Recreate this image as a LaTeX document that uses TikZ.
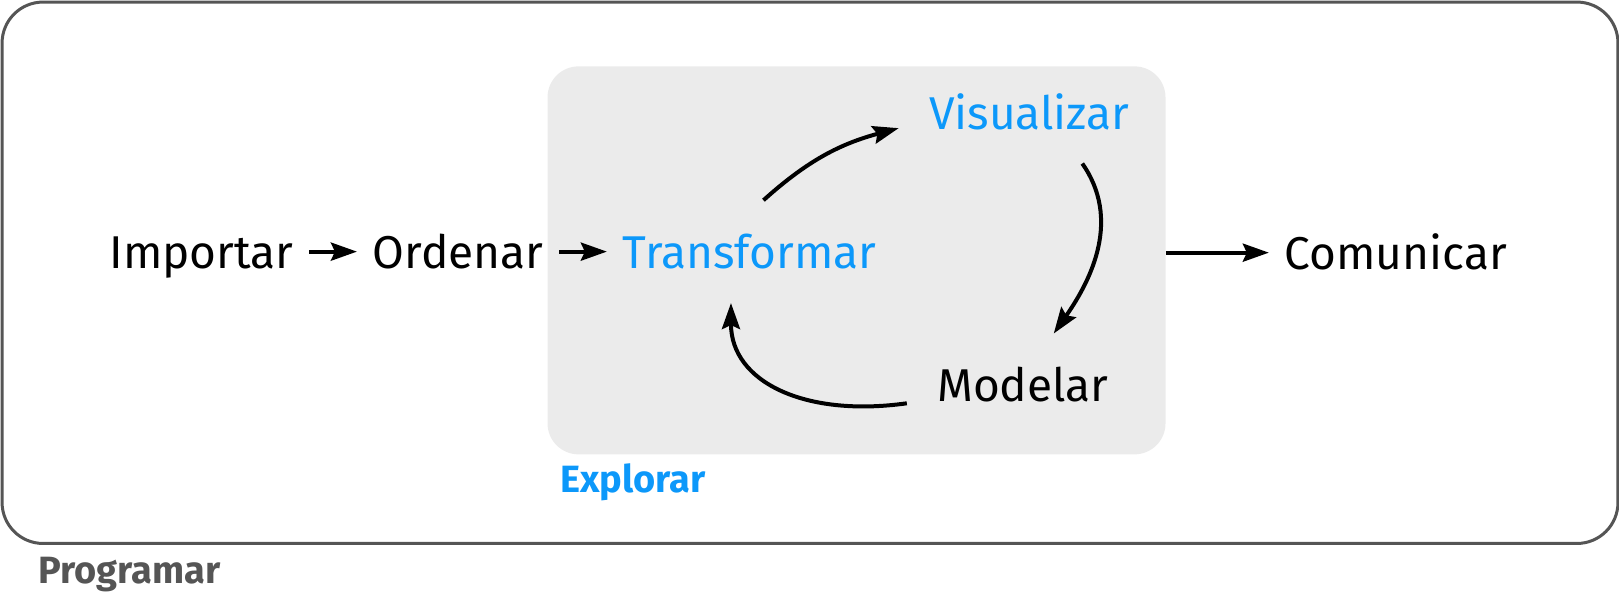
\documentclass[tikz,border=0pt]{standalone}
\usepackage{fontspec}
\setmainfont{Fira Sans}
\usetikzlibrary{arrows.meta, positioning}

\definecolor{azul}{RGB}{12,152,250}
\definecolor{gris}{RGB}{235,235,235}
\definecolor{borde}{RGB}{85,85,85}

\begin{document}
\begin{tikzpicture}[x=0.5166pt, y=0.5166pt,
        paso/.style={font=\fontsize{23}{27}\selectfont, inner xsep=7.75pt, inner ysep=17pt,
            text height=17pt, text depth=0pt},
        ciclo/.style={paso, inner xsep=15pt},
        etiqueta/.style={font=\fontsize{19}{22}\selectfont\bfseries, inner sep=0pt, anchor=base west},
        flecha/.style={-{Stealth[length=13pt, width=9pt, inset=2pt]}, line width=2pt}]
        \useasboundingbox (0,0) rectangle (1567,-574);

        % marcos
        \draw[borde, line width=1.5pt, rounded corners=20.5pt] (2,-2) rectangle (1566,-526);
        \node[fill=gris, rounded corners=15.5pt, minimum width=309pt, minimum height=194pt,
            inner sep=0pt] (caja) at (829,-252) {};

        \node[paso, anchor=base] (importar) at (195,-260) {Importar};
        \node[paso] (ordenar) [base right=23.8pt of importar] {Ordenar};
        \node[paso, azul] (transformar) [base right=23.8pt of ordenar] {Transformar};
        \node[ciclo, azul, anchor=base] (visualizar) at (996,-125) {Visualizar};
        \node[ciclo, anchor=base] (modelar) at (990,-389) {Modelar};
        \node[paso, anchor=base] (comunicar) at (1351,-261) {Comunicar};

        \node[etiqueta, azul] (explorar) at (542,-477) {Explorar};
        \node[etiqueta, borde] (programar) at (37,-565) {Programar};

        \path[flecha] (importar) edge (ordenar)
            (ordenar) edge (transformar)
            (caja.east |- comunicar) edge (comunicar)
            (transformar.75) edge[out=42, in=195] (visualizar.187)
            (visualizar.-44) edge[out=-55, in=55] (modelar.59)
            (modelar.189) edge[out=188, in=-90, out looseness=1.3] (transformar.250);
    \end{tikzpicture}
\end{document}
